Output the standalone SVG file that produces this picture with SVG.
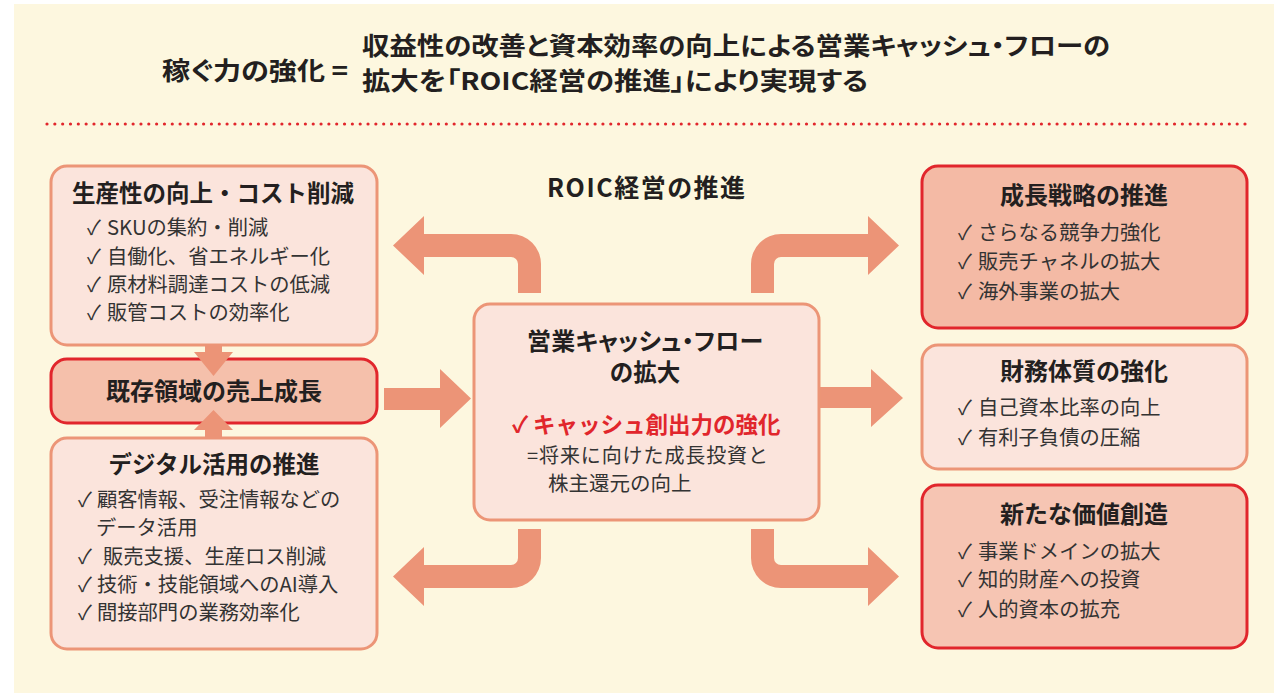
<svg xmlns="http://www.w3.org/2000/svg" width="1274" height="693" viewBox="0 0 1274 693">
<style>
text{font-family:"Noto Sans CJK JP","Noto Sans",sans-serif;fill:#231f20;}
.hd{font-size:24.5px;font-weight:700;font-feature-settings:"palt";}
.t{font-size:23.5px;font-weight:700;text-anchor:middle;}
.i{font-size:20.3px;fill:#333;}
.red{fill:#e1262c;font-weight:700;font-size:22.5px;}
.lt{fill:#fbe4dc;stroke:#ec9577;stroke-width:3;}
.dk{fill:#f4baa5;stroke:#e1262c;stroke-width:3;}
.ar{fill:#ec9477;}
</style>
<rect x="14" y="4" width="1260" height="689" fill="#fdf7df"/>
<g id="header">
<text class="hd" x="162" y="80" textLength="186" lengthAdjust="spacingAndGlyphs" style="font-size:25.5px">稼ぐ力の強化 =</text>
<text class="hd" x="362" y="55" textLength="748" lengthAdjust="spacingAndGlyphs">収益性の改善と資本効率の向上による営業キャッシュ・フローの</text>
<text class="hd" x="362" y="90" textLength="506" lengthAdjust="spacingAndGlyphs">拡大を「ROIC経営の推進」により実現する</text>
<line x1="47" y1="124" x2="1250" y2="124" stroke="#e1262c" stroke-width="3.2" stroke-linecap="round" stroke-dasharray="0 7.83"/>
</g>
<g id="connectors">
<path class="ar" d="M518,293 L518,264 A7,7 0 0 0 511,257 L424,257 L424,275 L393,245.5 L424,216 L424,234 L511,234 A30,30 0 0 1 541,264 L541,293 Z"/>
<path class="ar" d="M774,293 L774,264 A7,7 0 0 1 781,257 L868,257 L868,275 L899,245.5 L868,216 L868,234 L781,234 A30,30 0 0 0 751,264 L751,293 Z"/>
<path class="ar" d="M518,529 L518,558 A7,7 0 0 1 511,565 L424,565 L424,547 L393,576.5 L424,606 L424,588 L511,588 A30,30 0 0 0 541,558 L541,529 Z"/>
<path class="ar" d="M774,529 L774,558 A7,7 0 0 0 781,565 L868,565 L868,547 L899,576.5 L868,606 L868,588 L781,588 A30,30 0 0 1 751,558 L751,529 Z"/>
<path class="ar" d="M384,388 L440,388 L440,369 L471,398.5 L440,428 L440,410 L384,410 Z"/>
<path class="ar" d="M820,387 L871,387 L871,369 L903,398 L871,427 L871,408 L820,408 Z"/>
</g>
<g id="n-productivity">
<rect class="lt" x="51" y="166" width="326" height="179" rx="16"/>
<text class="t" x="213" y="202">生産性の向上・コスト削減</text>
<text class="i" y="235"><tspan x="87">✓</tspan><tspan x="107">SKUの集約・削減</tspan></text>
<text class="i" y="264"><tspan x="87">✓</tspan><tspan x="107">自働化、省エネルギー化</tspan></text>
<text class="i" y="292"><tspan x="87">✓</tspan><tspan x="107">原材料調達コストの低減</tspan></text>
<text class="i" y="320"><tspan x="87">✓</tspan><tspan x="107">販管コストの効率化</tspan></text>
</g>
<g id="n-digital">
<rect class="lt" x="51" y="438" width="326" height="211" rx="16"/>
<text class="t" x="214" y="473">デジタル活用の推進</text>
<text class="i" y="507"><tspan x="78">✓</tspan><tspan x="97">顧客情報、受注情報などの</tspan></text>
<text class="i" x="96" y="535">データ活用</text>
<text class="i" y="564"><tspan x="78">✓</tspan><tspan x="103">販売支援、生産ロス削減</tspan></text>
<text class="i" y="592"><tspan x="78">✓</tspan><tspan x="97">技術・技能領域へのAI導入</tspan></text>
<text class="i" y="620"><tspan x="78">✓</tspan><tspan x="97">間接部門の業務効率化</tspan></text>
</g>
<g id="n-existing">
<rect class="dk" x="51" y="359" width="326" height="64" rx="16" style="fill:#f5c0ab"/>
<text class="t" x="214" y="400" style="font-size:24px">既存領域の売上成長</text>
</g>
<g id="v-arrows">
<path class="ar" d="M205,345 L222,345 L222,352 L233,352 L213.5,376 L194,352 L205,352 Z"/>
<path class="ar" d="M205,439 L222,439 L222,430 L233,430 L213.5,410 L194,430 L205,430 Z"/>
</g>
<g id="n-roic">
<text class="t" x="646" y="197" style="font-size:25px;font-feature-settings:'palt'" textLength="198">ROIC経営の推進</text>
</g>
<g id="n-cashflow">
<rect class="lt" x="474" y="304" width="345" height="216" rx="16"/>
<text class="t" x="645" y="350" style="font-size:24px;font-feature-settings:'palt'" textLength="236">営業キャッシュ・フロー</text>
<text class="t" x="645" y="381" style="font-size:23.5px">の拡大</text>
<text class="red" y="433"><tspan x="512">✓</tspan><tspan x="533">キャッシュ創出力の強化</tspan></text>
<text class="i" x="527" y="463" style="font-size:20px" textLength="241">=将来に向けた成長投資と</text>
<text class="i" x="548" y="491" style="font-size:20.5px">株主還元の向上</text>
</g>
<g id="n-growth">
<rect class="dk" x="922" y="166" width="325" height="162" rx="16"/>
<text class="t" x="1084" y="204" style="font-size:24px">成長戦略の推進</text>
<text class="i" y="240"><tspan x="958">✓</tspan><tspan x="978">さらなる競争力強化</tspan></text>
<text class="i" y="269"><tspan x="958">✓</tspan><tspan x="978">販売チャネルの拡大</tspan></text>
<text class="i" y="299"><tspan x="958">✓</tspan><tspan x="978">海外事業の拡大</tspan></text>
</g>
<g id="n-finance">
<rect class="lt" x="922" y="345" width="325" height="124" rx="16"/>
<text class="t" x="1084" y="380" style="font-size:24px">財務体質の強化</text>
<text class="i" y="415"><tspan x="958">✓</tspan><tspan x="978">自己資本比率の向上</tspan></text>
<text class="i" y="445"><tspan x="958">✓</tspan><tspan x="978">有利子負債の圧縮</tspan></text>
</g>
<g id="n-value">
<rect class="dk" x="922" y="485" width="325" height="163" rx="16" style="fill:#f6c5b3"/>
<text class="t" x="1084" y="523" style="font-size:24px">新たな価値創造</text>
<text class="i" y="559"><tspan x="958">✓</tspan><tspan x="978">事業ドメインの拡大</tspan></text>
<text class="i" y="587"><tspan x="958">✓</tspan><tspan x="978">知的財産への投資</tspan></text>
<text class="i" y="617"><tspan x="958">✓</tspan><tspan x="978">人的資本の拡充</tspan></text>
</g>
</svg>
